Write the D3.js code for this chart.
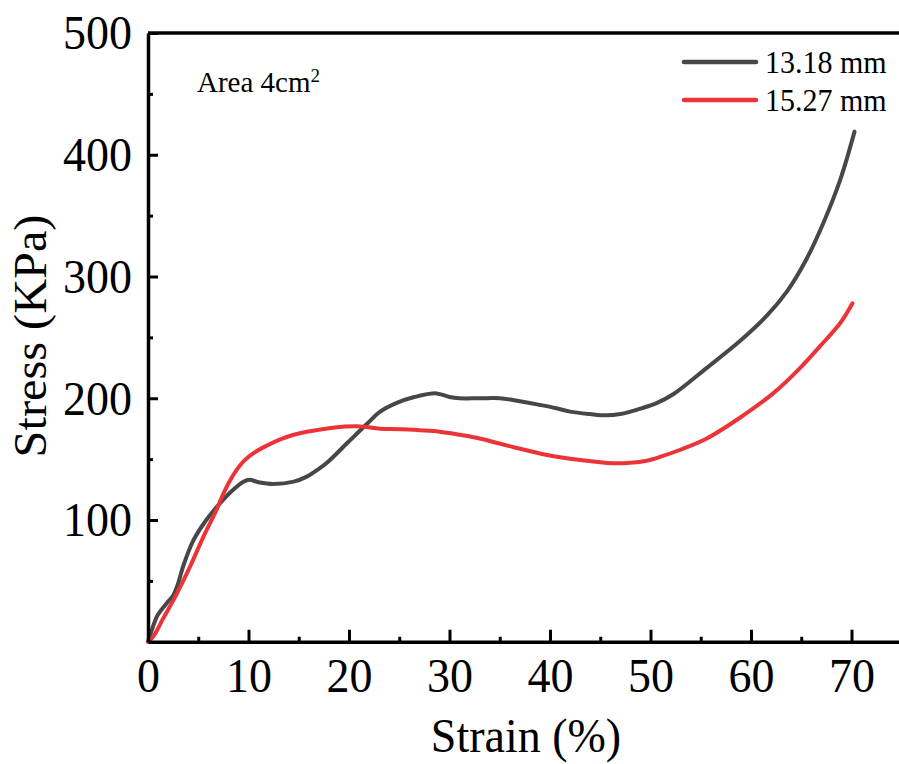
<!DOCTYPE html>
<html>
<head>
<meta charset="utf-8">
<script src="https://cdn.jsdelivr.net/npm/d3@7"></script>
<style>
  html, body { margin: 0; padding: 0; background: #fff; }
  svg { display: block; font-family: "Liberation Serif", "Times New Roman", serif; }
</style>
</head>
<body>
<svg id="chart" width="899" height="764"></svg>
<script>
// Compression test: strain (%) vs stress (KPa) for two sample thicknesses
const strain1318 = [0, 0.4, 0.9, 2.0, 2.5, 3.0, 3.5, 4.5, 5.8, 7.2, 8.5, 9.5, 10.1, 11, 12.5, 14.5, 15.8, 17, 17.8, 19.8, 21.8, 23.1, 24.7, 26.5, 28.7, 30, 31, 33, 35, 36.3, 39, 40.5, 42, 44, 45.6, 47, 48, 49, 50.6, 52.3, 55.6, 58.9, 61.6, 63.6, 65.5, 67.2, 68.9, 70.3];
const stress1318 = [0, 10, 21, 33, 38, 48, 62, 83, 100, 114, 125, 131.5, 133, 131, 129.6, 131.5, 135.6, 142, 147, 163, 179, 189, 196, 201, 204, 201, 200, 200, 200, 198.6, 194.5, 192, 189, 187, 186, 187, 189, 191.5, 196, 203.5, 225, 247, 268, 288, 314, 344, 380, 419];

const strain1527 = [0, 0.5, 1.5, 2.9, 4.2, 5.5, 6.8, 7.2, 8.0, 8.8, 9.6, 10.5, 11.8, 13.1, 14.5, 15.8, 18.4, 20.8, 23.1, 25.1, 29, 31, 33, 36.3, 39.7, 43, 46.3, 48, 49.6, 51, 52.9, 55.6, 58.9, 62.2, 64.9, 66.9, 68.9, 70.1];
const stress1527 = [0, 4, 19, 40, 62, 86, 108, 116, 130, 141, 149, 155, 161, 166, 170, 172.5, 175.8, 177, 175, 174.5, 172.5, 170, 167, 160, 153.4, 149.3, 146.6, 147, 148.7, 152, 157.5, 167, 184, 204, 225, 243, 262, 278];

const seriesNames = ["13.18 mm", "15.27 mm"];
const seriesColors = ["#474747", "#ec3337"];

const xTicks = [0, 10, 20, 30, 40, 50, 60, 70];
const xMinor = [5, 15, 25, 35, 45, 55, 65];
const yTicks = [100, 200, 300, 400, 500];
const yMinor = [50, 150, 250, 350, 450];

const W = 899, H = 764;
const plotLeft = 148, plotTop = 33, plotBottom = 641.75;
const pxPerUnit = 10.05;
const textStretch = 1.07;

const svg = d3.select("#chart");

const x = d3.scaleLinear().domain([0, 75]).range([plotLeft, plotLeft + 75 * pxPerUnit]);
const y = d3.scaleLinear().domain([0, 500]).range([plotBottom, plotTop]);

const fontFamily = '"Liberation Serif", "Times New Roman", serif';

// curves
const line = d3.line()
  .x(d => x(d[0]))
  .y(d => y(d[1]))
  .curve(d3.curveCatmullRom.alpha(0.5));

const series = [
  d3.zip(strain1318, stress1318),
  d3.zip(strain1527, stress1527)
];

svg.append("g").selectAll("path")
  .data(series)
  .join("path")
  .attr("d", line)
  .attr("fill", "none")
  .attr("stroke", (d, i) => seriesColors[i])
  .attr("stroke-width", 4)
  .attr("stroke-linejoin", "round")
  .attr("stroke-linecap", "round");

// top frame line
svg.append("line")
  .attr("x1", plotLeft).attr("x2", W)
  .attr("y1", plotTop).attr("y2", plotTop)
  .attr("stroke", "#000").attr("stroke-width", 3.5);

// left axis
svg.append("g")
  .attr("transform", `translate(${plotLeft},0)`)
  .call(d3.axisLeft(y).tickValues(yTicks).tickSizeInner(-10).tickSizeOuter(0).tickPadding(16));
svg.append("g")
  .attr("transform", `translate(${plotLeft},0)`)
  .call(d3.axisLeft(y).tickValues(yMinor).tickSizeInner(-5).tickSizeOuter(0).tickFormat(""))
  .call(g => g.select(".domain").remove());

// bottom axis
svg.append("g")
  .attr("class", "x-axis")
  .attr("transform", `translate(0,${plotBottom})`)
  .call(d3.axisBottom(x).tickValues(xTicks).tickSizeInner(-12).tickSizeOuter(0).tickPadding(14));
svg.append("g")
  .attr("transform", `translate(0,${plotBottom})`)
  .call(d3.axisBottom(x).tickValues(xMinor).tickSizeInner(-5).tickSizeOuter(0).tickFormat(""))
  .call(g => g.select(".domain").remove());

svg.selectAll(".domain").attr("stroke", "#000").attr("stroke-width", 3.5);
svg.selectAll(".tick line").attr("stroke", "#000").attr("stroke-width", 3);
svg.selectAll(".tick text")
  .attr("fill", "#000")
  .attr("transform", `scale(1,${textStretch})`)
  .style("font-family", fontFamily)
  .style("font-size", "46px");

// axis titles
svg.append("text")
  .attr("transform", `translate(526,752) scale(1,${textStretch})`)
  .attr("text-anchor", "middle")
  .style("font-family", fontFamily)
  .style("font-size", "46px")
  .text("Strain (%)");

svg.append("text")
  .attr("transform", `translate(46,336) rotate(-90) scale(1.05,1)`)
  .attr("text-anchor", "middle")
  .style("font-family", fontFamily)
  .style("font-size", "46px")
  .text("Stress (KPa)");

// annotation
const note = svg.append("text")
  .attr("transform", `translate(197,92) scale(1,1.04)`)
  .style("font-family", fontFamily)
  .style("font-size", "29px");
note.append("tspan").text("Area 4cm");
note.append("tspan").attr("dy", -10).style("font-size", "19px").text("2");

// legend
const legend = svg.append("g");
const legendRows = legend.selectAll("g")
  .data(seriesNames)
  .join("g")
  .attr("transform", (d, i) => `translate(0,${62 + i * 38})`);
legendRows.append("line")
  .attr("x1", 684).attr("x2", 756)
  .attr("stroke", (d, i) => seriesColors[i])
  .attr("stroke-width", 4.5)
  .attr("stroke-linecap", "round");
legendRows.append("text")
  .attr("transform", `translate(765,10.5) scale(1,1.04)`)
  .style("font-family", fontFamily)
  .style("font-size", "30px")
  .text(d => d);
</script>
</body>
</html>
